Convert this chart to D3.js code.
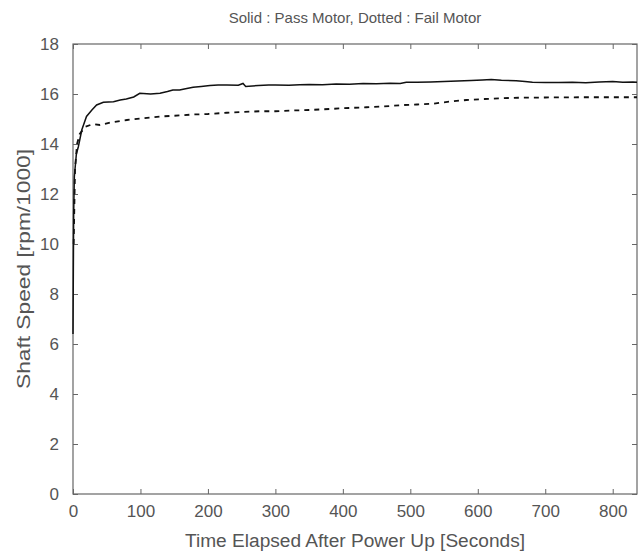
<!DOCTYPE html>
<html>
<head>
<meta charset="utf-8">
<script src="https://cdn.jsdelivr.net/npm/d3@7"></script>
<style>
  html, body { margin: 0; padding: 0; background: #fff; }
  svg { display: block; }
  text { font-family: "Liberation Sans", Arial, sans-serif; }
</style>
</head>
<body>
<svg id="chart" width="638" height="554"></svg>
<script>
const titleText = "Solid : Pass Motor, Dotted : Fail Motor";
const xLabel = "Time Elapsed After Power Up [Seconds]";
const yLabel = "Shaft Speed [rpm/1000]";
const xTicks = [0, 100, 200, 300, 400, 500, 600, 700, 800];
const yTicks = [0, 2, 4, 6, 8, 10, 12, 14, 16, 18];

const passTime  = [0, 0.5, 1, 2, 3, 5, 8, 13, 20, 28, 35, 45, 60, 70, 79, 90, 99, 115, 129, 140, 148, 158, 165, 178, 190, 203, 215, 228, 245, 252, 256, 275, 290, 300, 320, 336, 350, 370, 390, 410, 430, 450, 470, 485, 494, 510, 530, 550, 570, 590, 607, 620, 635, 657, 670, 681, 700, 720, 740, 760, 780, 800, 815, 830, 836];
const passSpeed = [6.4, 9.0, 11.2, 12.7, 13.0, 13.6, 13.9, 14.56, 15.1, 15.36, 15.56, 15.67, 15.69, 15.76, 15.8, 15.88, 16.03, 16.0, 16.03, 16.1, 16.16, 16.16, 16.2, 16.27, 16.3, 16.34, 16.36, 16.36, 16.35, 16.42, 16.3, 16.34, 16.36, 16.36, 16.35, 16.37, 16.38, 16.37, 16.4, 16.39, 16.42, 16.41, 16.43, 16.42, 16.47, 16.47, 16.48, 16.5, 16.52, 16.54, 16.56, 16.58, 16.55, 16.53, 16.5, 16.47, 16.46, 16.46, 16.47, 16.45, 16.48, 16.5, 16.47, 16.48, 16.47];

const failTime  = [1, 3, 6, 10, 18, 30, 40, 55, 80, 100, 129, 150, 178, 200, 228, 250, 277, 300, 326, 350, 380, 400, 435, 460, 490, 510, 533, 560, 583, 610, 632, 660, 700, 750, 800, 836];
const failSpeed = [10.0, 13.0, 14.0, 14.4, 14.69, 14.8, 14.76, 14.86, 14.96, 15.02, 15.1, 15.13, 15.18, 15.2, 15.25, 15.28, 15.31, 15.31, 15.34, 15.36, 15.4, 15.43, 15.47, 15.5, 15.56, 15.58, 15.61, 15.7, 15.76, 15.8, 15.83, 15.85, 15.86, 15.87, 15.87, 15.87];

(function () {
const svg = d3.select("#chart");
const mL = 73, mR = 637, mT = 44, mB = 494;
const x = d3.scaleLinear().domain([0, 836]).range([mL, mR]);
const y = d3.scaleLinear().domain([0, 18]).range([mB, mT]);

const axisColor = "#666";
const textColor = "#555";
const tickFont = "17px";

svg.append("rect")
  .attr("x", mL).attr("y", mT)
  .attr("width", mR - mL).attr("height", mB - mT)
  .attr("fill", "none").attr("stroke", axisColor).attr("stroke-width", 1.2);

const gx = svg.append("g").attr("transform", `translate(0,${mB})`)
  .call(d3.axisBottom(x).tickValues(xTicks).tickSizeInner(-5).tickSizeOuter(0).tickPadding(11).tickFormat(d3.format("d")));
gx.select(".domain").remove();
gx.selectAll("line").attr("stroke", axisColor);
gx.selectAll("text").attr("fill", textColor).style("font-size", tickFont);

const gt = svg.append("g").attr("transform", `translate(0,${mT})`)
  .call(d3.axisTop(x).tickValues(xTicks).tickSizeInner(-5).tickSizeOuter(0).tickFormat(""));
gt.select(".domain").remove();
gt.selectAll("line").attr("stroke", axisColor);

const gy = svg.append("g").attr("transform", `translate(${mL},0)`)
  .call(d3.axisLeft(y).tickValues(yTicks).tickSizeInner(-5).tickSizeOuter(0).tickPadding(14).tickFormat(d3.format("d")));
gy.select(".domain").remove();
gy.selectAll("line").attr("stroke", axisColor);
gy.selectAll("text").attr("fill", textColor).style("font-size", tickFont);

const gr = svg.append("g").attr("transform", `translate(${mR},0)`)
  .call(d3.axisRight(y).tickValues(yTicks).tickSizeInner(-5).tickSizeOuter(0).tickFormat(""));
gr.select(".domain").remove();
gr.selectAll("line").attr("stroke", axisColor);

const line = d3.line().x(d => x(d[0])).y(d => y(d[1]));

svg.append("path")
  .datum(failTime.map((t, i) => [t, failSpeed[i]]))
  .attr("d", line)
  .attr("fill", "none").attr("stroke", "#111").attr("stroke-width", 1.8)
  .attr("stroke-dasharray", "5,5");

svg.append("path")
  .datum(passTime.map((t, i) => [t, passSpeed[i]]))
  .attr("d", line)
  .attr("fill", "none").attr("stroke", "#111").attr("stroke-width", 1.5);

svg.append("text")
  .attr("x", (mL + mR) / 2).attr("y", 23)
  .attr("text-anchor", "middle").attr("fill", textColor)
  .style("font-size", "15px").text(titleText);

svg.append("text")
  .attr("x", (mL + mR) / 2).attr("y", 547)
  .attr("text-anchor", "middle").attr("fill", textColor)
  .attr("textLength", 340).attr("lengthAdjust", "spacingAndGlyphs")
  .style("font-size", "18px").text(xLabel);

svg.append("text")
  .attr("transform", `translate(30,${(mT + mB) / 2}) rotate(-90)`)
  .attr("text-anchor", "middle").attr("fill", textColor)
  .attr("textLength", 240).attr("lengthAdjust", "spacingAndGlyphs")
  .style("font-size", "18px").text(yLabel);
})();
</script>
</body>
</html>
